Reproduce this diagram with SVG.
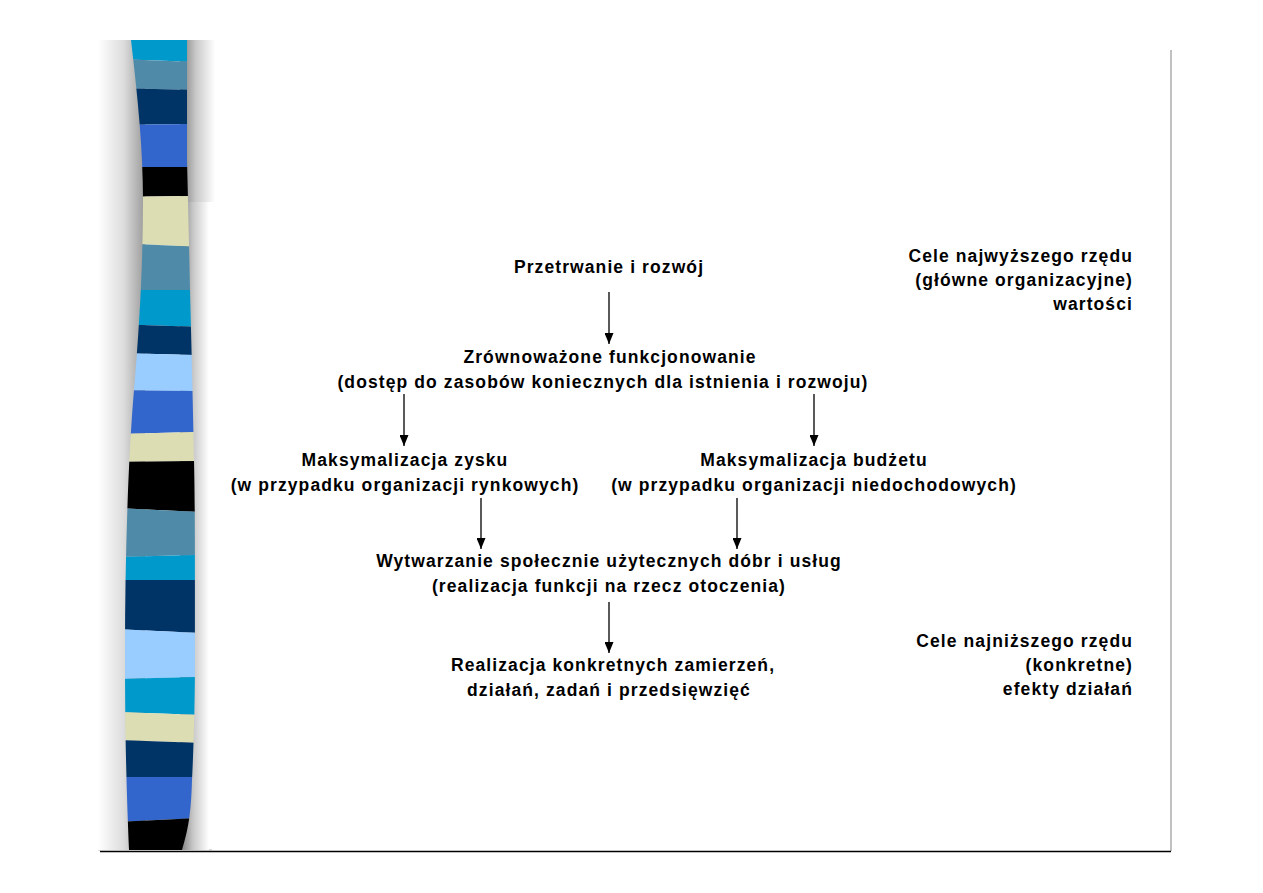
<svg xmlns="http://www.w3.org/2000/svg" width="1263" height="893" viewBox="0 0 1263 893">
<style>
.t{font-family:"Liberation Sans",Arial,sans-serif;font-weight:bold;font-size:17.5px;letter-spacing:1.1px;fill:#000;text-anchor:middle}
.r{text-anchor:end}
.c{stroke:#000;stroke-width:1.3;fill:none;marker-end:url(#ah)}
</style>
<defs>
<marker id="ah" markerWidth="11" markerHeight="9" refX="11" refY="4.5" orient="auto" markerUnits="userSpaceOnUse" viewBox="0 0 11 9">
<path d="M0,0 L11,4.5 L0,9 Z" fill="#000"/>
</marker>
<linearGradient id="gl" x1="0" y1="0" x2="1" y2="0">
<stop offset="0" stop-color="#fff"/>
<stop offset="0.55" stop-color="#dcdcdc"/>
<stop offset="1" stop-color="#9a9a9a"/>
</linearGradient>
<linearGradient id="gr" x1="0" y1="0" x2="1" y2="0">
<stop offset="0" stop-color="#7a7a7a"/>
<stop offset="0.45" stop-color="#c8c8c8"/>
<stop offset="1" stop-color="#fff"/>
</linearGradient>
<clipPath id="band">
<path d="M131,40 C138,100 143,150 143,200 C143,260 140,320 134,390 C128,460 125,560 125,650 C125,750 127,800 129,850 L182,850 C188,830 191,815 192,780 C194,740 195,700 195,650 C195,560 195,500 194,460 C193,400 191,330 190,290 C189,240 188,200 187,160 C187,100 187,60 187,40 Z"/>
</clipPath>
</defs>
<rect width="1263" height="893" fill="#fff"/>
<g id="frame">
<line x1="1171" y1="50" x2="1171" y2="851" stroke="#a0a0a0" stroke-width="1.3"/>
<line x1="100" y1="851.5" x2="1171" y2="851.5" stroke="#000" stroke-width="1.5"/>
<line x1="98" y1="850" x2="212" y2="850" stroke="#b0b0b0" stroke-width="1"/>
</g>
<g id="band-shadow">
<rect x="98" y="40" width="47" height="810" fill="url(#gl)"/>
<rect x="180" y="40" width="35" height="162" fill="url(#gr)"/>
<rect x="180" y="202" width="29" height="648" fill="url(#gr)"/>
</g>
<g id="band-stripes" clip-path="url(#band)">
<polygon points="115,40 200,40 200,62 115,59" fill="#0099CC"/>
<polygon points="115,59 200,62 200,90 115,88" fill="#4F8BA8"/>
<polygon points="115,88 200,90 200,124 115,125" fill="#003366"/>
<polygon points="115,125 200,124 200,167 115,167" fill="#3366CC"/>
<polygon points="115,167 200,167 200,196 115,197" fill="#000000"/>
<polygon points="115,197 200,196 200,247 115,243" fill="#DDDDB4"/>
<polygon points="115,243 200,247 200,290 115,290" fill="#4F8BA8"/>
<polygon points="115,290 200,290 200,327 115,324" fill="#0099CC"/>
<polygon points="115,324 200,327 200,355 115,353" fill="#003366"/>
<polygon points="115,353 200,355 200,391 115,390" fill="#99CCFF"/>
<polygon points="115,390 200,391 200,432 115,434" fill="#3366CC"/>
<polygon points="115,434 200,432 200,461 115,462" fill="#DDDDB4"/>
<polygon points="115,462 200,461 200,512 115,508" fill="#000000"/>
<polygon points="115,508 200,512 200,555 115,557" fill="#4F8BA8"/>
<polygon points="115,557 200,555 200,580 115,580" fill="#0099CC"/>
<polygon points="115,580 200,580 200,633 115,629" fill="#003366"/>
<polygon points="115,629 200,633 200,677 115,679" fill="#99CCFF"/>
<polygon points="115,679 200,677 200,715 115,712" fill="#0099CC"/>
<polygon points="115,712 200,715 200,743 115,740" fill="#DDDDB4"/>
<polygon points="115,740 200,743 200,777 115,777" fill="#003366"/>
<polygon points="115,777 200,777 200,818 115,822" fill="#3366CC"/>
<polygon points="115,822 200,818 200,851 115,851" fill="#000000"/>
</g>
<g id="connectors">
<line class="c" x1="609" y1="292" x2="609" y2="344"/>
<line class="c" x1="404" y1="394" x2="404" y2="446"/>
<line class="c" x1="814" y1="394" x2="814" y2="446"/>
<line class="c" x1="481" y1="498" x2="481" y2="549"/>
<line class="c" x1="737" y1="498" x2="737" y2="549"/>
<line class="c" x1="609" y1="602" x2="609" y2="653"/>
</g>
<g id="n-przetrwanie"><text class="t" x="609" y="273">Przetrwanie i rozwój</text></g>
<g id="n-zrownowazone">
<text class="t" x="610" y="363">Zrównoważone funkcjonowanie</text>
<text class="t" x="603" y="388">(dostęp do zasobów koniecznych dla istnienia i rozwoju)</text>
</g>
<g id="n-zysk">
<text class="t" x="405" y="466">Maksymalizacja zysku</text>
<text class="t" x="405" y="491">(w przypadku organizacji rynkowych)</text>
</g>
<g id="n-budzet">
<text class="t" x="814" y="466">Maksymalizacja budżetu</text>
<text class="t" x="814" y="491">(w przypadku organizacji niedochodowych)</text>
</g>
<g id="n-wytwarzanie">
<text class="t" x="609" y="567">Wytwarzanie społecznie użytecznych dóbr i usług</text>
<text class="t" x="609" y="592">(realizacja funkcji na rzecz otoczenia)</text>
</g>
<g id="n-realizacja">
<text class="t" x="613" y="671">Realizacja konkretnych zamierzeń,</text>
<text class="t" x="609" y="696">działań, zadań i przedsięwzięć</text>
</g>
<g id="n-cele-najwyzsze">
<text class="t r" x="1133" y="262">Cele najwyższego rzędu</text>
<text class="t r" x="1133" y="286">(główne organizacyjne)</text>
<text class="t r" x="1133" y="310">wartości</text>
</g>
<g id="n-cele-najnizsze">
<text class="t r" x="1133" y="647">Cele najniższego rzędu</text>
<text class="t r" x="1133" y="671">(konkretne)</text>
<text class="t r" x="1133" y="695">efekty działań</text>
</g>
</svg>
